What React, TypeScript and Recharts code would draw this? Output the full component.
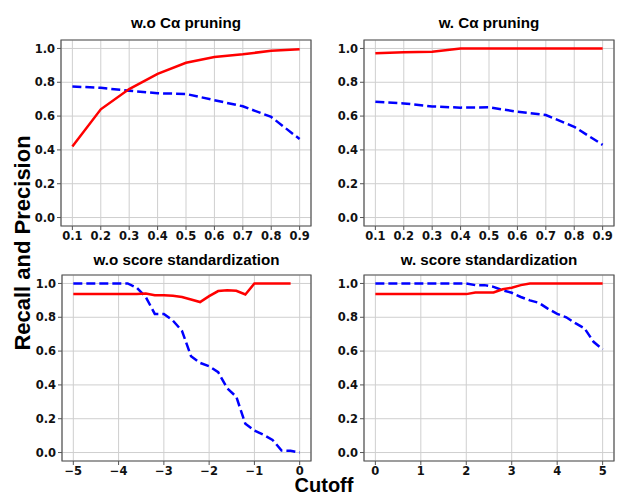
import { LineChart, Line, XAxis, YAxis, CartesianGrid, ReferenceArea } from "recharts";

// cutoffs used by the pruning panels
const PRUNE_CUTOFFS = [0.1, 0.2, 0.3, 0.4, 0.5, 0.6, 0.7, 0.8, 0.9];
const WO_PRUNE_RECALL = [0.42, 0.64, 0.76, 0.85, 0.915, 0.95, 0.966, 0.986, 0.996];
const WO_PRUNE_PRECISION = [0.775, 0.767, 0.75, 0.735, 0.731, 0.694, 0.658, 0.595, 0.464];
const W_PRUNE_RECALL = [0.972, 0.978, 0.98, 1.0, 1.0, 1.0, 1.0, 1.0, 1.0];
const W_PRUNE_PRECISION = [0.685, 0.675, 0.657, 0.65, 0.652, 0.626, 0.606, 0.537, 0.43];

// cutoffs used by the standardization panels
const WO_STD_CUTOFFS = [
  -5, -4.8, -4.6, -4.4, -4.2, -4, -3.8, -3.6, -3.4, -3.2, -3, -2.8, -2.6,
  -2.4, -2.2, -2, -1.8, -1.6, -1.4, -1.2, -1, -0.8, -0.6, -0.4, -0.2, 0,
];
const WO_STD_RECALL = [
  0.937, 0.937, 0.937, 0.937, 0.937, 0.937, 0.937, 0.937, 0.94, 0.93, 0.93,
  0.927, 0.92, 0.905, 0.89, 0.925, 0.955, 0.96, 0.957, 0.935, 1.0, 1.0, 1.0,
  1.0, 1.0, null,
];
const WO_STD_PRECISION = [
  1.0, 1.0, 1.0, 1.0, 1.0, 1.0, 1.0, 0.975, 0.92, 0.82, 0.82, 0.78, 0.72,
  0.57, 0.53, 0.51, 0.475, 0.38, 0.33, 0.17, 0.13, 0.105, 0.075, 0.012,
  0.01, 0.0,
];
const W_STD_CUTOFFS = [
  0, 0.2, 0.4, 0.6, 0.8, 1, 1.2, 1.4, 1.6, 1.8, 2, 2.2, 2.4, 2.6, 2.8, 3,
  3.2, 3.4, 3.6, 3.8, 4, 4.2, 4.4, 4.6, 4.8, 5,
];
const W_STD_RECALL = [
  0.937, 0.937, 0.937, 0.937, 0.937, 0.937, 0.937, 0.937, 0.937, 0.937,
  0.937, 0.947, 0.947, 0.947, 0.966, 0.975, 0.99, 1.0, 1.0, 1.0, 1.0, 1.0,
  1.0, 1.0, 1.0, 1.0,
];
const W_STD_PRECISION = [
  1.0, 1.0, 1.0, 1.0, 1.0, 1.0, 1.0, 1.0, 1.0, 1.0, 1.0, 0.99, 0.99, 0.98,
  0.96, 0.945, 0.92, 0.9, 0.885, 0.85, 0.82, 0.8, 0.765, 0.735, 0.655, 0.61,
];

const Y_TICKS = [0, 0.2, 0.4, 0.6, 0.8, 1.0];
const PRUNE_X_TICKS = [0.1, 0.2, 0.3, 0.4, 0.5, 0.6, 0.7, 0.8, 0.9];
const WO_STD_X_TICKS = [-5, -4, -3, -2, -1, 0];
const W_STD_X_TICKS = [0, 1, 2, 3, 4, 5];

const TITLES = [
  "w.o C\u03b1 pruning",
  "w. C\u03b1 pruning",
  "w.o score standardization",
  "w. score standardization",
];

const toRows = (xs: number[], recall: (number | null)[], precision: number[]) =>
  xs.map((x, i) => ({ x, recall: recall[i], precision: precision[i] }));

const TICK_FONT = {
  fontSize: 11.5,
  fontWeight: 700,
  fill: "#111",
  fontFamily: "DejaVu Sans",
};

const Y_AXIS_W = 45;
const TOP_PAD = 10;
const X_AXIS_H = 25;

type PanelProps = {
  data: { x: number; recall: number | null; precision: number }[];
  xDomain: [number, number];
  xTicks: number[];
  fmtX: (v: number) => string;
  frame: { x0: number; x1: number; y0: number; y1: number };
};

function Panel({ data, xDomain, xTicks, fmtX, frame }: PanelProps) {
  const w = frame.x1 - frame.x0 + Y_AXIS_W + 8;
  const h = frame.y1 - frame.y0 + TOP_PAD + X_AXIS_H;
  return (
    <div
      style={{
        position: "absolute",
        left: frame.x0 - Y_AXIS_W,
        top: frame.y0 - TOP_PAD,
      }}
    >
      <LineChart
        width={w}
        height={h}
        data={data}
        margin={{ top: TOP_PAD, right: 8, left: 0, bottom: 0 }}
      >
        <CartesianGrid stroke="#cfcfcf" strokeWidth={1} />
        <XAxis
          dataKey="x"
          type="number"
          domain={xDomain}
          allowDataOverflow
          ticks={xTicks}
          tickFormatter={fmtX}
          interval={0}
          height={X_AXIS_H}
          tick={TICK_FONT}
          tickSize={4}
          axisLine={false}
          tickLine={{ stroke: "#555" }}
        />
        <YAxis
          type="number"
          domain={[-0.05, 1.05]}
          allowDataOverflow
          ticks={Y_TICKS}
          tickFormatter={(v: number) => v.toFixed(1)}
          interval={0}
          width={Y_AXIS_W}
          tick={TICK_FONT}
          tickSize={4}
          axisLine={false}
          tickLine={{ stroke: "#555" }}
        />
        <Line
          type="linear"
          dataKey="precision"
          stroke="#0000ff"
          strokeWidth={2.5}
          strokeDasharray="9 4"
          dot={false}
          isAnimationActive={false}
        />
        <Line
          type="linear"
          dataKey="recall"
          stroke="#ff0000"
          strokeWidth={2.5}
          dot={false}
          isAnimationActive={false}
        />
        <ReferenceArea
          x1={xDomain[0]}
          x2={xDomain[1]}
          y1={-0.05}
          y2={1.05}
          fill="none"
          stroke="#555"
          strokeWidth={1.2}
        />
      </LineChart>
    </div>
  );
}

const FRAMES = [
  { x0: 61, x1: 311, y0: 40, y1: 226 },
  { x0: 364, x1: 614, y0: 40, y1: 226 },
  { x0: 62, x1: 311, y0: 275, y1: 461 },
  { x0: 364, x1: 614, y0: 275, y1: 461 },
];

const fmtDec = (v: number) => v.toFixed(1);
const fmtInt = (v: number) => (v < 0 ? "\u2212" + Math.abs(v) : String(v));

export default function App() {
  return (
    <div
      style={{
        position: "absolute",
        left: 0,
        top: 0,
        width: 634,
        height: 496,
        background: "#fff",
      }}
    >
      <Panel
        data={toRows(PRUNE_CUTOFFS, WO_PRUNE_RECALL, WO_PRUNE_PRECISION)}
        xDomain={[0.06, 0.94]}
        xTicks={PRUNE_X_TICKS}
        fmtX={fmtDec}
        frame={FRAMES[0]}
      />
      <Panel
        data={toRows(PRUNE_CUTOFFS, W_PRUNE_RECALL, W_PRUNE_PRECISION)}
        xDomain={[0.06, 0.94]}
        xTicks={PRUNE_X_TICKS}
        fmtX={fmtDec}
        frame={FRAMES[1]}
      />
      <Panel
        data={toRows(WO_STD_CUTOFFS, WO_STD_RECALL, WO_STD_PRECISION)}
        xDomain={[-5.25, 0.25]}
        xTicks={WO_STD_X_TICKS}
        fmtX={fmtInt}
        frame={FRAMES[2]}
      />
      <Panel
        data={toRows(W_STD_CUTOFFS, W_STD_RECALL, W_STD_PRECISION)}
        xDomain={[-0.25, 5.25]}
        xTicks={W_STD_X_TICKS}
        fmtX={fmtInt}
        frame={FRAMES[3]}
      />
      <svg
        width={634}
        height={496}
        style={{ position: "absolute", left: 0, top: 0, pointerEvents: "none" }}
      >
        {TITLES.map((t, i) => {
          const f = FRAMES[i];
          return (
            <text
              key={t}
              x={(f.x0 + f.x1) / 2}
              y={i < 2 ? 22 : 259}
              textAnchor="middle"
              dominantBaseline="central"
              fontFamily="Liberation Sans, Arial, sans-serif"
              fontWeight={700}
              fontSize={15.2}
              fill="#000"
            >
              {t}
            </text>
          );
        })}
        <text
          x={22}
          y={243}
          transform="rotate(-90 22 243)"
          textAnchor="middle"
          dominantBaseline="central"
          fontFamily="Liberation Sans, Arial, sans-serif"
          fontWeight={700}
          fontSize={22}
          fill="#000"
        >
          Recall and Precision
        </text>
        <text
          x={324}
          y={485}
          textAnchor="middle"
          dominantBaseline="central"
          fontFamily="Liberation Sans, Arial, sans-serif"
          fontWeight={700}
          fontSize={20}
          fill="#000"
        >
          Cutoff
        </text>
      </svg>
    </div>
  );
}
